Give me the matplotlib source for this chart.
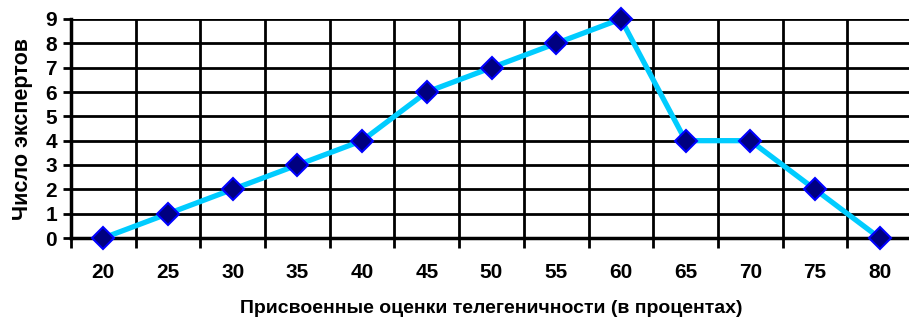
import matplotlib.pyplot as plt
from matplotlib.ticker import FixedLocator

plt.rcParams['font.family'] = ['Liberation Sans', 'DejaVu Sans']
plt.rcParams['font.weight'] = 'bold'

scores = [20, 25, 30, 35, 40, 45, 50, 55, 60, 65, 70, 75, 80]
experts = [0, 1, 2, 3, 4, 6, 7, 8, 9, 4, 4, 2, 0]

fig = plt.figure(figsize=(9.09, 3.2), dpi=100)
ax = fig.add_axes([71 / 909, 1 - 238 / 320, 841 / 909, 219 / 320])

pos = list(range(len(scores)))
ax.plot(pos, experts, color='#00CCFF', lw=3.8, zorder=3,
        marker='D', markersize=11, markerfacecolor='#000080',
        markeredgecolor='#0000FF', markeredgewidth=1.5, clip_on=False)

ax.set_xlim(-0.5, len(scores) - 0.5)
ax.set_ylim(0, 9)
ax.set_yticks(range(10))
ax.set_xticks(pos)
ax.set_xticklabels([str(s) for s in scores])
ax.xaxis.set_minor_locator(FixedLocator([p - 0.5 for p in pos] + [len(pos) - 0.5]))

# category grid on boundaries, value grid on every integer
ax.grid(axis='y', which='major', color='black', lw=2)
ax.grid(axis='x', which='minor', color='black', lw=2)
ax.set_axisbelow(True)

for side in ['top', 'right']:
    ax.spines[side].set_visible(False)
ax.spines['left'].set_linewidth(2.5)
ax.spines['bottom'].set_linewidth(2.5)

ax.tick_params(axis='x', which='major', length=0, pad=18, labelsize=15)
ax.tick_params(axis='x', which='minor', length=7, width=2)
ax.tick_params(axis='y', length=6, width=2, pad=4, labelsize=15)

ax.set_xlabel('Присвоенные оценки телегеничности (в процентах)',
              fontsize=14, fontweight='bold', labelpad=13)
ax.set_ylabel('Число экспертов', fontsize=15.5, fontweight='bold', labelpad=9)

fig.savefig('out.png', dpi=100)
